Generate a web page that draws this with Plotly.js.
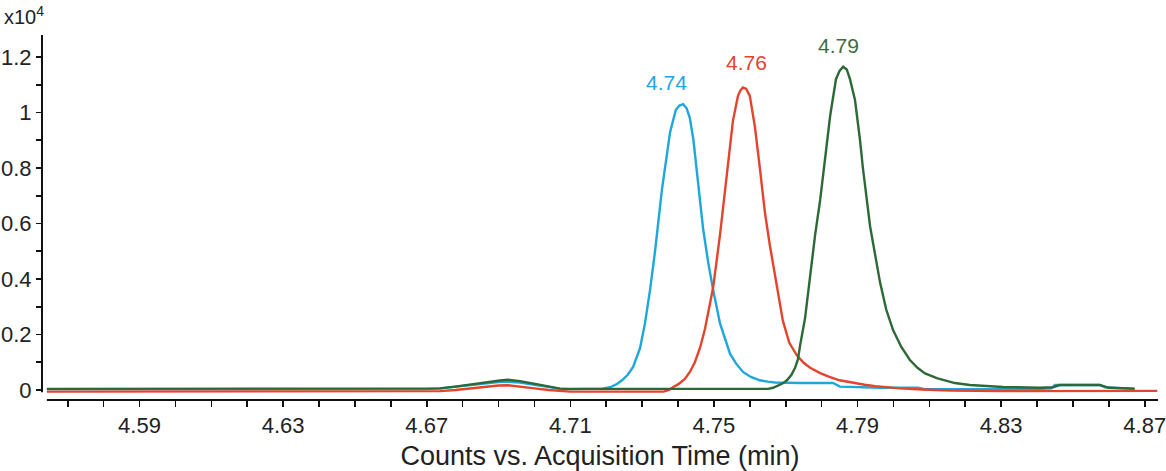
<!DOCTYPE html>
<html>
<head>
<meta charset="utf-8">
<script src="https://cdn.plot.ly/plotly-3.0.1.min.js"></script>
<style>html,body{margin:0;padding:0;background:#fff;}#chart{width:1166px;height:471px;}</style>
</head>
<body>
<div id="chart"></div>
<script>
// Acquisition time (min) and counts (x10^4)
const blueTime = [4.5642,4.600,4.640,4.670,4.6737,4.678,4.682,4.686,4.690,4.6926,4.696,4.700,4.704,4.707,4.710,4.7169,4.7190,4.7211,4.7228,4.7244,4.7260,4.7275,4.7294,4.7308,4.7322,4.7336,4.7355,4.7378,4.7394,4.7404,4.7414,4.7424,4.7433,4.7443,4.7453,4.7470,4.7484,4.7498,4.7517,4.7545,4.7562,4.7581,4.7603,4.7628,4.7650,4.7670,4.7740,4.7832,4.7851,4.7963,4.8068,4.8088,4.8400,4.8440,4.8450,4.8575,4.8590,4.8660,4.8672];
const blueCounts = [0.003,0.003,0.003,0.003,0.006,0.012,0.019,0.025,0.029,0.030,0.027,0.019,0.010,0.005,0.003,0.003,0.005,0.010,0.020,0.035,0.055,0.083,0.150,0.240,0.360,0.500,0.720,0.930,1.010,1.025,1.030,1.015,0.980,0.900,0.780,0.580,0.460,0.360,0.240,0.130,0.095,0.065,0.047,0.035,0.030,0.027,0.025,0.025,0.012,0.008,0.008,0.003,0.003,0.006,0.018,0.018,0.010,0.006,0.004];

const redTime = [4.5642,4.600,4.640,4.670,4.6737,4.678,4.682,4.686,4.690,4.6926,4.696,4.700,4.704,4.707,4.710,4.7360,4.7375,4.7386,4.7402,4.7419,4.7433,4.7447,4.7462,4.7475,4.7498,4.7517,4.7537,4.7553,4.7567,4.7574,4.7581,4.7590,4.7600,4.7614,4.7628,4.7642,4.7656,4.7675,4.7692,4.7710,4.7731,4.7750,4.7768,4.7796,4.7820,4.7850,4.7888,4.7920,4.7950,4.7985,4.8018,4.8080,4.8158,4.8300,4.8500,4.8735];
const redCounts = [-0.006,-0.006,-0.006,-0.006,-0.004,0.000,0.006,0.012,0.016,0.017,0.013,0.006,0.000,-0.004,-0.006,-0.006,0.000,0.010,0.022,0.040,0.065,0.100,0.155,0.220,0.370,0.560,0.780,0.970,1.060,1.080,1.090,1.085,1.060,0.950,0.800,0.640,0.520,0.370,0.250,0.170,0.125,0.098,0.080,0.061,0.048,0.035,0.025,0.019,0.014,0.010,0.006,0.002,-0.002,-0.004,-0.003,-0.003];

const greenTime = [4.5642,4.600,4.640,4.670,4.6737,4.6779,4.6821,4.6862,4.6904,4.6926,4.6960,4.7002,4.7043,4.7071,4.7099,4.7651,4.7665,4.7679,4.7692,4.7704,4.7716,4.7726,4.7734,4.7740,4.7754,4.7768,4.7782,4.7796,4.7810,4.7824,4.7840,4.7850,4.7860,4.7870,4.7879,4.7893,4.7907,4.7915,4.7935,4.7963,4.7980,4.7999,4.8022,4.8046,4.8067,4.8088,4.8121,4.8145,4.8171,4.8213,4.8260,4.8305,4.8408,4.8444,4.8463,4.8575,4.8600,4.8658,4.8672];
const greenCounts = [0.004,0.004,0.004,0.004,0.006,0.012,0.020,0.028,0.034,0.037,0.032,0.022,0.012,0.005,0.004,0.004,0.008,0.015,0.024,0.036,0.055,0.080,0.110,0.160,0.260,0.410,0.560,0.685,0.840,0.990,1.120,1.150,1.165,1.155,1.120,1.045,0.900,0.800,0.590,0.386,0.290,0.216,0.155,0.108,0.080,0.060,0.043,0.033,0.025,0.018,0.014,0.011,0.008,0.010,0.018,0.018,0.008,0.006,0.005];

// Peak retention-time labels
const peakLabels = ["4.74", "4.76", "4.79"];
const peakLabelTime = [4.7367, 4.7591, 4.7847];
const peakLabelCounts = [1.108, 1.180, 1.243];

const xTickStart = 4.59, xTickStep = 0.04;
const yTickVals = [0, 0.2, 0.4, 0.6, 0.8, 1.0, 1.2];
const yTickText = ["0", "0.2", "0.4", "0.6", "0.8", "1", "1.2"];

const colors = ["#1ea6dd", "#e3442e", "#2d6936"];
const labelColors = ["#1ea6dd", "#e3442e", "#3e6e3e"];
const FONT = "Liberation Sans, Arial, Helvetica, sans-serif";

const xRange = [4.56284, 4.87370];
const yRange = [-0.03604, 1.27928];

const mk = (x, y, c) => ({
  x: x, y: y, type: "scatter", mode: "lines",
  line: {color: c, width: 2.4, shape: "linear"},
  hoverinfo: "x+y", showlegend: false
});

const traces = [
  mk(blueTime, blueCounts, colors[0]),
  mk(redTime, redCounts, colors[1]),
  mk(greenTime, greenCounts, colors[2])
];

const annotations = peakLabels.map((t, i) => ({
  x: peakLabelTime[i], y: peakLabelCounts[i], xref: "x", yref: "y",
  text: t, showarrow: false, xanchor: "center", yanchor: "middle",
  font: {family: FONT, size: 21, color: labelColors[i]}
}));
annotations.push({
  x: -0.036, y: 1.092, xref: "paper", yref: "paper",
  text: "x10<sup>4</sup>", showarrow: false, xanchor: "left", yanchor: "top",
  font: {family: FONT, size: 20, color: "#222"}
});

const layout = {
  width: 1166, height: 471,
  margin: {l: 42, r: 8, t: 35, b: 71, pad: 0},
  paper_bgcolor: "#fff", plot_bgcolor: "#fff",
  font: {family: FONT, color: "#222"},
  xaxis: {
    range: xRange, showgrid: false, zeroline: false, showline: false,
    ticks: "outside", ticklen: 6, tickwidth: 1.6, tickcolor: "#111",
    tick0: xTickStart, dtick: xTickStep, tickformat: ".2f",
    ticklabeloverflow: "allow",
    tickfont: {family: FONT, size: 22, color: "#222"},
    minor: {dtick: 0.01, tick0: xTickStart, ticks: "outside", ticklen: 6, tickwidth: 1.6, tickcolor: "#111", showgrid: false},
    title: {text: "Counts vs. Acquisition Time (min)", font: {family: FONT, size: 27, color: "#222"}, standoff: 10}
  },
  yaxis: {
    range: yRange, showgrid: false, zeroline: false, showline: false,
    ticks: "outside", ticklen: 5, tickwidth: 1.6, tickcolor: "#111",
    tickmode: "array", tickvals: yTickVals, ticktext: yTickText,
    tickfont: {family: FONT, size: 22, color: "#222"},
    minor: {dtick: 0.1, tick0: 0, ticks: "outside", ticklen: 5, tickwidth: 1.6, tickcolor: "#111", showgrid: false}
  },
  shapes: [
    {type: "line", xref: "paper", yref: "y", x0: 0, x1: 0, y0: -0.008, y1: yRange[1], line: {color: "#111", width: 2}},
    {type: "line", xref: "x", yref: "paper", x0: 4.5642, x1: xRange[1], y0: 0, y1: 0, line: {color: "#111", width: 2}}
  ],
  annotations: annotations
};

Plotly.newPlot("chart", traces, layout, {displayModeBar: false, staticPlot: true});
</script>
</body>
</html>
